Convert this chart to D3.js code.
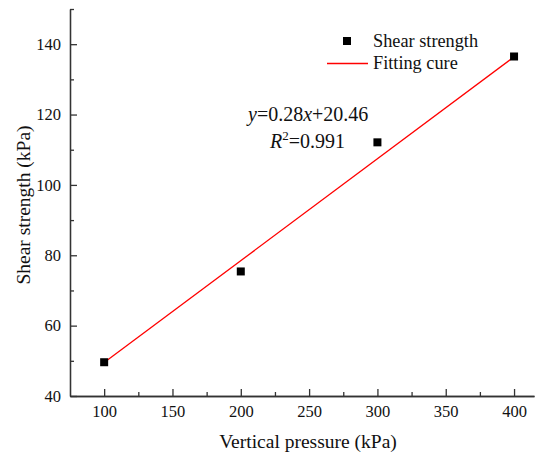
<!DOCTYPE html>
<html lang="en">
<head>
    <meta charset="UTF-8">
    <title>Shear strength</title>
    <script src="https://d3js.org/d3.v7.min.js"></script>
    <style>
        body { margin: 0; background: #fff; }
        text { font-family: "Liberation Serif", "Times New Roman", serif; fill: #111; }
    </style>
</head>
<body>
    <div id="container"></div>
    <script>
        // measured points
        var pressure = [100, 200, 300, 400];
        var strength = [49.6, 75.4, 112.1, 136.5];
        // fitted line, end points
        var fitX = [100, 400];
        var fitY = [49.5, 136.4];
        var xTicks = [100, 150, 200, 250, 300, 350, 400];
        var yTicks = [40, 60, 80, 100, 120, 140];

        var width = 539, height = 454;
        var mLeft = 70, mTop = 9, mRight = 534, mBottom = 396;

        var svg = d3.select("#container")
            .append("svg")
            .attr("width", width)
            .attr("height", height);

        var x = d3.scaleLinear().domain([75, 414.6]).range([mLeft, mRight]);
        var y = d3.scaleLinear().domain([40, 150]).range([mBottom, mTop]);

        // axes, ticks pointing inward
        var xAxis = d3.axisBottom(x).tickValues(xTicks).tickSizeInner(-7).tickSizeOuter(0).tickPadding(9);
        var xMinor = d3.axisBottom(x).tickValues([125, 175, 225, 275, 325, 375]).tickSizeInner(-4).tickSizeOuter(0).tickFormat("");
        var yAxis = d3.axisLeft(y).tickValues(yTicks).tickSizeInner(-7).tickSizeOuter(0).tickPadding(9);
        var yMinor = d3.axisLeft(y).tickValues([50, 70, 90, 110, 130, 150]).tickSizeInner(-4).tickSizeOuter(0).tickFormat("");

        function style(g) {
            g.selectAll("path, line").attr("stroke", "#333").attr("stroke-width", 1.3);
            g.selectAll("text").style("font-size", "16.5px").attr("fill", "#111");
        }

        svg.append("g").attr("transform", "translate(0," + mBottom + ")").call(xAxis).call(style);
        svg.append("g").attr("transform", "translate(0," + mBottom + ")").call(xMinor).call(style);
        svg.append("g").attr("transform", "translate(" + mLeft + ",0)").call(yAxis).call(style);
        svg.append("g").attr("transform", "translate(" + mLeft + ",0)").call(yMinor).call(style);

        // axis titles
        svg.append("text")
            .attr("x", 308).attr("y", 448)
            .attr("text-anchor", "middle")
            .style("font-size", "19.5px")
            .text("Vertical pressure (kPa)");

        svg.append("text")
            .attr("transform", "translate(30," + 205 + ") rotate(-90)")
            .attr("text-anchor", "middle")
            .style("font-size", "19.5px")
            .text("Shear strength (kPa)");

        // fitting line
        var fit = fitX.map(function (d, i) { return [d, fitY[i]]; });
        svg.append("path")
            .datum(fit)
            .attr("d", d3.line().x(function (d) { return x(d[0]); }).y(function (d) { return y(d[1]); }))
            .attr("stroke", "#ff0000")
            .attr("stroke-width", 1.3)
            .attr("fill", "none");

        // points
        var sq = 8;
        svg.selectAll("rect.pt")
            .data(pressure)
            .enter()
            .append("rect")
            .attr("class", "pt")
            .attr("x", function (d) { return x(d) - sq / 2; })
            .attr("y", function (d, i) { return y(strength[i]) - sq / 2; })
            .attr("width", sq)
            .attr("height", sq)
            .attr("fill", "#000");

        // legend
        svg.append("rect").attr("x", 343).attr("y", 37).attr("width", sq).attr("height", sq).attr("fill", "#000");
        svg.append("text").attr("x", 373).attr("y", 47).style("font-size", "18.3px").text("Shear strength");
        svg.append("line").attr("x1", 327).attr("x2", 368).attr("y1", 63.5).attr("y2", 63.5)
            .attr("stroke", "#ff0000").attr("stroke-width", 1.3);
        svg.append("text").attr("x", 373).attr("y", 69).style("font-size", "18.3px").text("Fitting cure");

        // equation
        var eq = svg.append("text").attr("x", 248).attr("y", 121).style("font-size", "20px");
        eq.append("tspan").style("font-style", "italic").text("y");
        eq.append("tspan").text("=0.28");
        eq.append("tspan").style("font-style", "italic").text("x");
        eq.append("tspan").text("+20.46");

        var r2 = svg.append("text").attr("x", 270).attr("y", 148).style("font-size", "20px");
        r2.append("tspan").style("font-style", "italic").text("R");
        r2.append("tspan").attr("dy", -8).style("font-size", "13px").text("2");
        r2.append("tspan").attr("dy", 8).text("=0.991");
    </script>
</body>
</html>
